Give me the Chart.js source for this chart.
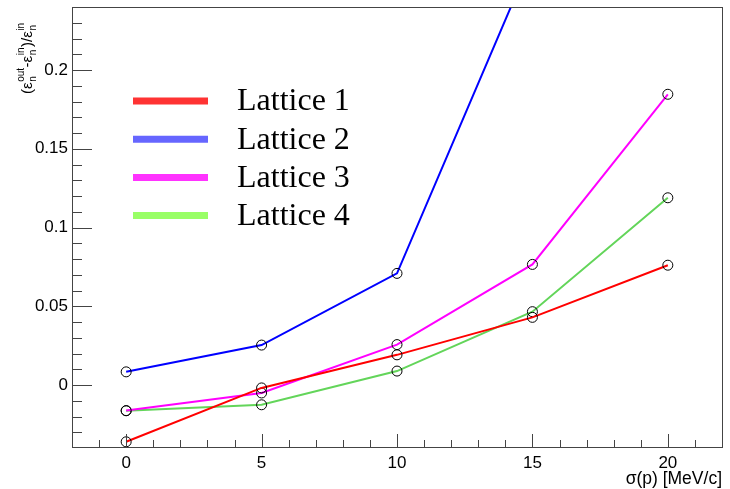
<!DOCTYPE html>
<html>
<head>
<meta charset="utf-8">
<script src="https://cdn.jsdelivr.net/npm/chart.js@4.4.1/dist/chart.umd.min.js"></script>
<style>
  html, body { margin: 0; padding: 0; background: #fff; }
</style>
</head>
<body>
<canvas id="c" width="730" height="489"></canvas>
<script>
// values
var sigmaP = [0, 5, 10, 15, 20];
var lattice1 = [-0.036, -0.0018, 0.0192, 0.043, 0.0761];
var lattice2 = [0.0084, 0.0254, 0.0709, 0.272, 0.42];
var lattice3 = [-0.0162, -0.005, 0.0257, 0.0766, 0.1846];
var lattice4 = [-0.0163, -0.0125, 0.0089, 0.0466, 0.1189];
var seriesNames = ['Lattice 1', 'Lattice 2', 'Lattice 3', 'Lattice 4'];
var xTicks = [0, 5, 10, 15, 20];
var yTicks = [0, 0.05, 0.1, 0.15, 0.2];
var yTickLabels = ['0', '0.05', '0.1', '0.15', '0.2'];

var lineColors = ['#ff0000', '#0000ff', '#ff00ff', '#63d55a'];
var legendColors = ['#ff3333', '#6666ff', '#ff33ff', '#99ff66'];

function toPoints(ys) {
  return sigmaP.map(function(x, i) { return { x: x, y: ys[i] }; });
}

var datasets = [lattice1, lattice2, lattice3, lattice4].map(function(ys, i) {
  return {
    label: seriesNames[i],
    data: toPoints(ys),
    borderColor: lineColors[i],
    borderWidth: 2,
    pointRadius: 5,
    pointBorderColor: '#000',
    pointBorderWidth: 1,
    pointBackgroundColor: 'rgba(0,0,0,0)',
    tension: 0,
    fill: false
  };
});

// ROOT-like frame with inward ticks
var framePlugin = {
  id: 'frame',
  afterDraw: function(chart) {
    var ctx = chart.ctx, a = chart.chartArea;
    var xs = chart.scales.x, ys = chart.scales.y;
    ctx.save();
    ctx.strokeStyle = '#444';
    ctx.lineWidth = 1;
    ctx.strokeRect(Math.round(a.left) + 0.5, Math.round(a.top) + 0.5,
      Math.round(a.right - a.left), Math.round(a.bottom - a.top));
    ctx.beginPath();
    for (var v = Math.ceil(xs.min); v <= xs.max; v++) {
      var px = Math.round(xs.getPixelForValue(v)) + 0.5;
      var len = v % 5 === 0 ? 13 : 7;
      ctx.moveTo(px, a.bottom);
      ctx.lineTo(px, a.bottom - len);
    }
    for (var i = Math.ceil(ys.min * 100); i <= Math.floor(ys.max * 100); i++) {
      var py = Math.round(ys.getPixelForValue(i / 100)) + 0.5;
      var l = i % 5 === 0 ? 20 : 10;
      ctx.moveTo(a.left, py);
      ctx.lineTo(a.left + l, py);
    }
    ctx.stroke();
    ctx.restore();
  }
};

// legend drawn inside the frame, from the dataset labels
var legendPlugin = {
  id: 'rootLegend',
  afterDraw: function(chart) {
    var ctx = chart.ctx;
    ctx.save();
    ctx.font = '32px "Liberation Serif", "DejaVu Serif", serif';
    ctx.textBaseline = 'middle';
    ctx.fillStyle = '#000';
    chart.data.datasets.forEach(function(ds, i) {
      var y = 101 + i * 38.2;
      ctx.strokeStyle = legendColors[i];
      ctx.lineWidth = 7;
      ctx.beginPath();
      ctx.moveTo(133, y);
      ctx.lineTo(208, y);
      ctx.stroke();
      ctx.fillText(ds.label, 237, y + 1);
    });
    ctx.restore();
  }
};

// axis titles with super/subscripts
var titlePlugin = {
  id: 'axisTitles',
  afterDraw: function(chart) {
    var ctx = chart.ctx;
    ctx.save();
    ctx.fillStyle = '#000';
    ctx.font = '17.5px "Liberation Sans", Arial, sans-serif';
    ctx.textAlign = 'right';
    ctx.textBaseline = 'alphabetic';
    ctx.fillText('\u03c3(p) [MeV/c]', 722, 484);

    ctx.translate(32, 94);
    ctx.rotate(-Math.PI / 2);
    ctx.textAlign = 'left';
    var big = '15px "Liberation Sans", Arial, sans-serif';
    var small = '10px "Liberation Sans", Arial, sans-serif';
    var parts = [
      ['(', null, null], ['\u03b5', 'n', 'out'], ['-', null, null],
      ['\u03b5', 'n', 'in'], [')/', null, null], ['\u03b5', 'n', 'in']
    ];
    var x = 0;
    parts.forEach(function(p) {
      ctx.font = big;
      ctx.fillText(p[0], x, 0);
      x += ctx.measureText(p[0]).width;
      if (p[1]) {
        ctx.font = small;
        ctx.fillText(p[1], x + 0.5, 4);
        ctx.fillText(p[2], x + 0.5, -8);
        x += Math.max(ctx.measureText(p[1]).width, ctx.measureText(p[2]).width) + 1;
      }
    });
    ctx.restore();
  }
};

new Chart(document.getElementById('c').getContext('2d'), {
  type: 'line',
  data: { datasets: datasets },
  options: {
    responsive: false,
    animation: false,
    devicePixelRatio: 1,
    layout: { padding: { left: 0, top: 7, right: 8, bottom: 0 } },
    plugins: {
      legend: { display: false },
      tooltip: { enabled: false }
    },
    scales: {
      x: {
        type: 'linear',
        min: -2,
        max: 22,
        grid: { display: false, drawTicks: false },
        border: { display: false },
        afterBuildTicks: function(s) { s.ticks = xTicks.map(function(v) { return { value: v }; }); },
        afterFit: function(s) { s.height = 42; s.paddingLeft = 0; s.paddingRight = 0; },
        ticks: {
          color: '#000',
          padding: 6,
          maxRotation: 0,
          font: { family: '"Liberation Sans", Arial, sans-serif', size: 17 },
          callback: function(v) { return String(v); }
        }
      },
      y: {
        type: 'linear',
        min: -0.0393,
        max: 0.24,
        grid: { display: false, drawTicks: false },
        border: { display: false },
        afterBuildTicks: function(s) { s.ticks = yTicks.map(function(v) { return { value: v }; }); },
        afterFit: function(s) { s.width = 72; s.paddingTop = 0; s.paddingBottom = 0; },
        ticks: {
          color: '#000',
          padding: 4,
          font: { family: '"Liberation Sans", Arial, sans-serif', size: 17 },
          callback: function(v) { return yTickLabels[yTicks.indexOf(v)]; }
        }
      }
    }
  },
  plugins: [framePlugin, legendPlugin, titlePlugin]
});
</script>
</body>
</html>
